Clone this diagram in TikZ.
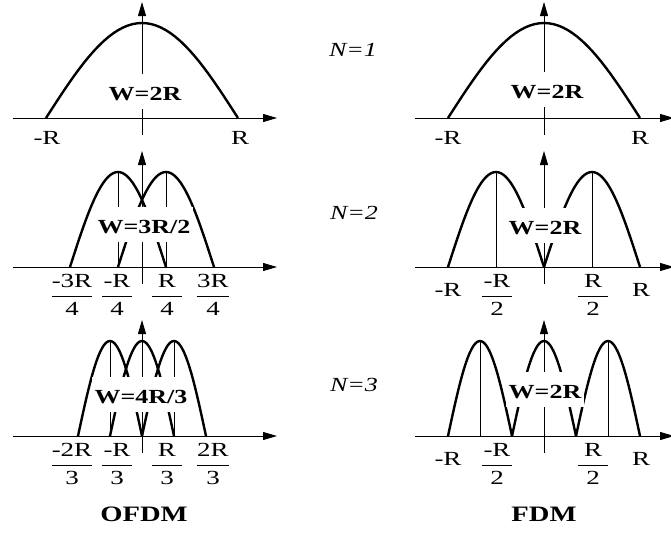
\documentclass[tikz,border=0pt]{standalone}
\usepackage{amsmath}
\usepackage{fontspec}
\setmainfont{Liberation Serif}
\usetikzlibrary{arrows.meta}
\newcommand{\frlab}[2]{\(\dfrac{\mbox{#1}}{\makebox[1.1em]{#2}}\)}

\begin{document}
\begin{tikzpicture}[x=1pt,y=-1pt,
    axis/.style={line width=0.9pt,-{Triangle[length=14pt,width=8pt]}},
    curve/.style={line width=2.4pt},
    tick/.style={line width=0.8pt},
    wlab/.style={fill=white,anchor=base,font=\fontsize{20}{24}\selectfont\bfseries,xscale=1.3,text height=23pt,text depth=6pt,inner xsep=2pt,inner ysep=3pt},
    rlab/.style={font=\fontsize{20}{24}\selectfont,xscale=1.35,inner sep=0pt},
    nlab/.style={font=\fontsize{20}{24}\selectfont\itshape,xscale=1.3,inner sep=0pt},
    title/.style={font=\fontsize{22}{26}\selectfont\bfseries,xscale=1.3,inner sep=0pt}
  ]
    \useasboundingbox (0,0) rectangle (671,533);

    \foreach \ay in {118,267,436} {
      \draw[axis] (13,\ay) -- (277,\ay);
      \draw[axis] (142,\ay+17) -- (142,\ay-116);
      \draw[axis] (415,\ay) -- (674,\ay);
      \draw[axis] (544,\ay+17) -- (544,\ay-116);
    }

    \foreach \c/\w/\ay in {142/96/118, 118/48/267, 166/48/267, 110/32/436, 142/32/436, 174/32/436,
                           544/96/118, 496/48/267, 592/48/267, 480/32/436, 544/32/436, 608/32/436}
      \draw[curve] plot[domain=-1:1,samples=41] ({\c+\w*\x},{\ay-95*cos(90*\x)});

    \foreach \c/\ay in {118/267,166/267,110/436,174/436,496/267,592/267,480/436,608/436}
      \draw[tick] (\c,\ay) -- (\c,\ay-95);

    \node[wlab] (wofdma) at (145,100) {W=2R};
    \node[wlab] (wofdmb) at (144,233) {W=3R/2};
    \node[wlab] (wofdmc) at (141,403) {W=4R/3};
    \node[wlab] (wfdma) at (547,98) {W=2R};
    \node[wlab] (wfdmb) at (545,234) {W=2R};
    \node[wlab] (wfdmc) at (545,398) {W=2R};

    \node[rlab] (lma) at (47,138) {-R};
    \node[rlab] (lpa) at (240,138) {R};
    \node[rlab] (rma) at (448,138) {-R};
    \node[rlab] (rpa) at (640,138) {R};

    \node[rlab] (lb1) at (72,295) {\frlab{-3R}{4}};
    \node[rlab] (lb2) at (117,295) {\frlab{-R}{4}};
    \node[rlab] (lb3) at (167,295) {\frlab{R}{4}};
    \node[rlab] (lb4) at (213,295) {\frlab{3R}{4}};
    \node[rlab] (rb1) at (448,290) {-R};
    \node[rlab] (rb2) at (497,295) {\frlab{-R}{2}};
    \node[rlab] (rb3) at (593,295) {\frlab{R}{2}};
    \node[rlab] (rb4) at (641,290) {R};

    \node[rlab] (lc1) at (72,464) {\frlab{-2R}{3}};
    \node[rlab] (lc2) at (117,464) {\frlab{-R}{3}};
    \node[rlab] (lc3) at (167,464) {\frlab{R}{3}};
    \node[rlab] (lc4) at (213,464) {\frlab{2R}{3}};
    \node[rlab] (rc1) at (448,459) {-R};
    \node[rlab] (rc2) at (497,464) {\frlab{-R}{2}};
    \node[rlab] (rc3) at (593,464) {\frlab{R}{2}};
    \node[rlab] (rc4) at (641,459) {R};

    \node[nlab] (n1) at (353,50) {N=1};
    \node[nlab] (n2) at (354,213) {N=2};
    \node[nlab] (n3) at (354,385) {N=3};

    \node[title] (ofdm) at (144,514) {OFDM};
    \node[title] (fdm) at (544,514) {FDM};
  \end{tikzpicture}
\end{document}
